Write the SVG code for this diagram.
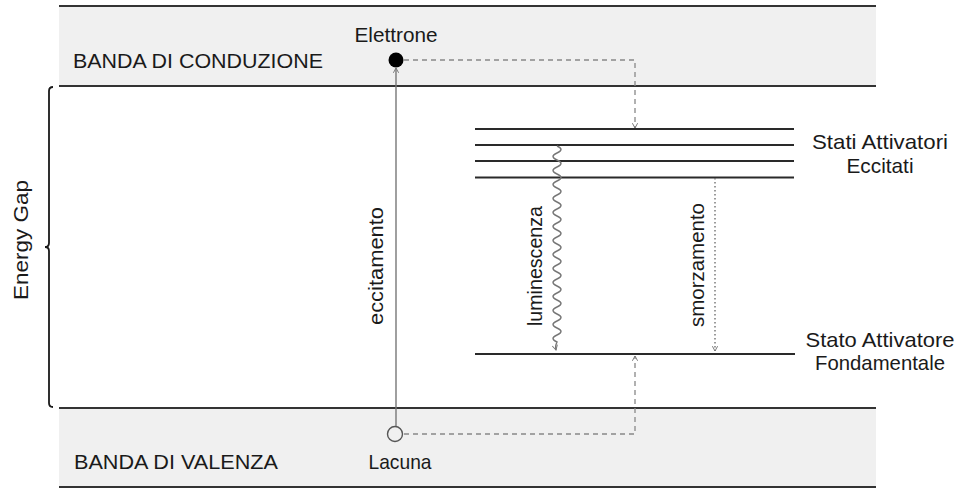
<svg xmlns="http://www.w3.org/2000/svg" width="956" height="488" viewBox="0 0 956 488">
<style>
.t{font-family:"Liberation Sans",Arial,sans-serif;font-size:21px;fill:#1a1a1a}
.band{fill:#f0f0f0}
.edge{stroke:#333;stroke-width:2;fill:none}
.lvl{stroke:#2a2a2a;stroke-width:2;fill:none}
.conn{stroke:#777;stroke-width:1.4;fill:none}
.dash{stroke:#888;stroke-width:1.3;stroke-dasharray:5 4;fill:none}
.dot{stroke:#666;stroke-width:1.3;stroke-dasharray:1.5 2.5;fill:none}
</style>
<defs>
<marker id="arr" viewBox="0 0 8 8" refX="7" refY="4" markerWidth="7" markerHeight="7" markerUnits="userSpaceOnUse" orient="auto">
<path d="M1.5,1 L7,4 L1.5,7" fill="none" stroke="#777" stroke-width="1.1"/>
</marker>
</defs>
<rect width="956" height="488" fill="#fff"/>
<g id="banda-conduzione">
<rect class="band" x="59" y="6" width="817" height="80"/>
<line class="edge" x1="59" y1="6" x2="876" y2="6"/>
<line class="edge" x1="59" y1="86" x2="876" y2="86"/>
<text class="t" x="73" y="68" textLength="250" lengthAdjust="spacingAndGlyphs">BANDA DI CONDUZIONE</text>
</g>
<g id="banda-valenza">
<rect class="band" x="59" y="408" width="817" height="80"/>
<line class="edge" x1="59" y1="408" x2="876" y2="408"/>
<line class="edge" x1="59" y1="487" x2="876" y2="487"/>
<text class="t" x="74" y="469" textLength="204" lengthAdjust="spacingAndGlyphs">BANDA DI VALENZA</text>
</g>
<g id="energy-gap">
<path d="M53,87 q-4,0 -4,4 L49,243 q0,4 -4,4 q4,0 4,4 L49,403 q0,4 4,4" fill="none" stroke="#1a1a1a" stroke-width="1.8"/>
<text class="t" transform="translate(28,240) rotate(-90)" text-anchor="middle" textLength="120" lengthAdjust="spacingAndGlyphs">Energy Gap</text>
</g>
<g id="stati-eccitati">
<line class="lvl" x1="475" y1="129" x2="794" y2="129"/>
<line class="lvl" x1="475" y1="145" x2="794" y2="145"/>
<line class="lvl" x1="475" y1="161" x2="794" y2="161"/>
<line class="lvl" x1="475" y1="177.5" x2="794" y2="177.5"/>
<text class="t" x="880" y="149" text-anchor="middle" textLength="136" lengthAdjust="spacingAndGlyphs">Stati Attivatori</text>
<text class="t" x="880" y="173" text-anchor="middle" textLength="67" lengthAdjust="spacingAndGlyphs">Eccitati</text>
</g>
<g id="stato-fondamentale">
<line class="lvl" x1="475" y1="354" x2="795" y2="354"/>
<text class="t" x="880" y="347" text-anchor="middle" textLength="149" lengthAdjust="spacingAndGlyphs">Stato Attivatore</text>
<text class="t" x="880" y="370" text-anchor="middle" textLength="130" lengthAdjust="spacingAndGlyphs">Fondamentale</text>
</g>
<g id="connectors">
<line class="conn" x1="396" y1="426" x2="396" y2="68" marker-end="url(#arr)"/>
<text class="t" transform="translate(383,266) rotate(-90)" text-anchor="middle" textLength="118" lengthAdjust="spacingAndGlyphs">eccitamento</text>
<path class="dash" d="M404,60 H635 V128" marker-end="url(#arr)"/>
<path class="dash" d="M404,434 H635 V356" marker-end="url(#arr)"/>
<path class="conn" d="M557,146 q8,3.5 0,7 t0,7 t0,7 t0,7 t0,7 t0,7 t0,7 t0,7 t0,7 t0,7 t0,7 t0,7 t0,7 t0,7 t0,7 t0,7 t0,7 t0,7 t0,7 t0,7 t0,7 t0,7 t0,7 t0,7 t0,7 t0,7 t0,7 t0,7 q-2,4 -1,8" marker-end="url(#arr)"/>
<text class="t" transform="translate(542,266) rotate(-90)" text-anchor="middle" textLength="120" lengthAdjust="spacingAndGlyphs">luminescenza</text>
<path class="dot" d="M715,178 V351" marker-end="url(#arr)"/>
<text class="t" transform="translate(704,265) rotate(-90)" text-anchor="middle" textLength="124" lengthAdjust="spacingAndGlyphs">smorzamento</text>
</g>
<g id="elettrone">
<circle cx="396" cy="60" r="7.5" fill="#000"/>
<text class="t" x="396" y="42" text-anchor="middle" textLength="83" lengthAdjust="spacingAndGlyphs">Elettrone</text>
</g>
<g id="lacuna">
<circle cx="395" cy="434" r="7.5" fill="#f0f0f0" stroke="#555" stroke-width="1.4"/>
<text class="t" x="400" y="469" text-anchor="middle" textLength="63" lengthAdjust="spacingAndGlyphs">Lacuna</text>
</g>
</svg>
